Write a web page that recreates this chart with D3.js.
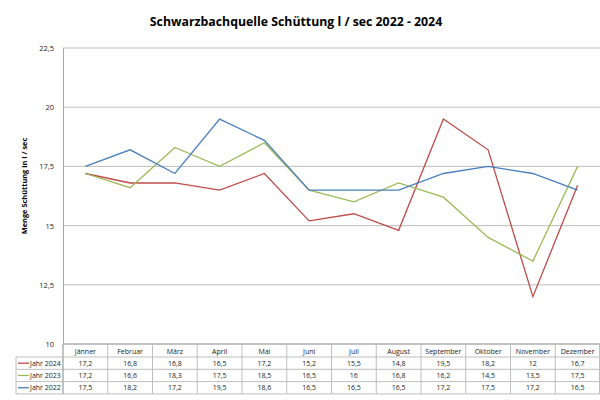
<!DOCTYPE html>
<html><head><meta charset="utf-8">
<script src="https://cdn.jsdelivr.net/npm/d3@7"></script>
<style>
html,body{margin:0;padding:0;background:#fff;}
svg{display:block;font-family:"Open Sans","Liberation Sans",sans-serif;}
</style></head>
<body>
<svg id="c" width="600" height="400"></svg>
<script>
const months = ["Jänner","Februar","März","April","Mai","Juni","Juli","August","September","Oktober","November","Dezember"];
const seriesNames = ["Jahr 2024","Jahr 2023","Jahr 2022"];
const seriesColors = ["#BE4B48","#9BBB59","#4A7EBB"];
const values2024 = [17.2,16.8,16.8,16.5,17.2,15.2,15.5,14.8,19.5,18.2,12,16.7];
const values2023 = [17.2,16.6,18.3,17.5,18.5,16.5,16,16.8,16.2,14.5,13.5,17.5];
const values2022 = [17.5,18.2,17.2,19.5,18.6,16.5,16.5,16.5,17.2,17.5,17.2,16.5];
const yTicks = [10,12.5,15,17.5,20,22.5];
const title = "Schwarzbachquelle Schüttung l / sec 2022 - 2024";
const yTitle = "Menge Schüttung in l / sec";

const series = [values2024, values2023, values2022];
const svg = d3.select("#c");
const L = 63, R = 600, T = 48, B = 344;
const rowH = 12.3, legL = 16;
const fmt = v => String(v).replace(".", ",");

const x = d3.scaleBand().domain(months).range([L, R]);
const y = d3.scaleLinear().domain([10, 22.5]).range([B, T]);

svg.append("text").attr("x", 296).attr("y", 26).attr("text-anchor", "middle")
  .attr("font-size", 12.3).attr("font-weight", "bold").attr("fill", "#000").text(title);

svg.append("g").selectAll("line").data(yTicks).join("line")
  .attr("x1", L).attr("x2", R).attr("y1", d => y(d)).attr("y2", d => y(d))
  .attr("stroke", "#BEBEBE").attr("stroke-width", 1);

const ya = svg.append("g").attr("transform", `translate(${L},0)`)
  .call(d3.axisLeft(y).tickValues(yTicks).tickSize(0).tickPadding(9).tickFormat(fmt));
ya.select(".domain").attr("stroke", "#A6A6A6");
ya.selectAll("text").attr("font-size", 7.5).attr("fill", "#222").attr("font-family", "Open Sans, sans-serif");

svg.append("text").attr("transform", `translate(27,${(T + B) / 2 - 10}) rotate(-90)`)
  .attr("text-anchor", "middle").attr("font-size", 7.4).attr("font-weight", "bold").text(yTitle);

const line = d3.line().x((d, i) => x(months[i]) + x.bandwidth() / 2).y(d => y(d));
series.forEach((s, k) => {
  svg.append("path").datum(s).attr("d", line).attr("fill", "none")
    .attr("stroke", seriesColors[k]).attr("stroke-width", 1.3);
});

const tb = svg.append("g");
const rowYs = [B, B + 13, B + 13 + rowH, B + 13 + 2 * rowH, B + 13 + 3 * rowH];
rowYs.forEach((yy, r) => {
  tb.append("line").attr("x1", r === 0 ? L : legL).attr("x2", R).attr("y1", yy).attr("y2", yy)
    .attr("stroke", r === 0 ? "#A6A6A6" : "#BEBEBE");
});
months.forEach(m => {
  tb.append("line").attr("x1", x(m)).attr("x2", x(m)).attr("y1", B).attr("y2", rowYs[4]).attr("stroke", "#BEBEBE");
});
tb.append("line").attr("x1", L).attr("x2", L).attr("y1", B).attr("y2", rowYs[4]).attr("stroke", "#A6A6A6");
tb.append("line").attr("x1", legL).attr("x2", legL).attr("y1", rowYs[1]).attr("y2", rowYs[4]).attr("stroke", "#BEBEBE");
tb.append("line").attr("x1", R - 0.5).attr("x2", R - 0.5).attr("y1", B).attr("y2", rowYs[4]).attr("stroke", "#BEBEBE");

tb.selectAll("text.h").data(months).join("text").attr("class", "h")
  .attr("x", d => x(d) + x.bandwidth() / 2).attr("y", B + 9.5).attr("text-anchor", "middle")
  .attr("font-size", 7).attr("fill", "#222").text(d => d);

series.forEach((s, k) => {
  const cy = rowYs[k + 1] + rowH / 2 + 2.6;
  tb.append("line").attr("x1", legL + 2).attr("x2", legL + 13).attr("y1", cy - 2.6).attr("y2", cy - 2.6)
    .attr("stroke", seriesColors[k]).attr("stroke-width", 1.3);
  tb.append("text").attr("x", legL + 14).attr("y", cy).attr("font-size", 7).attr("fill", "#222").text(seriesNames[k]);
  tb.selectAll(null).data(s).join("text")
    .attr("x", (d, i) => x(months[i]) + x.bandwidth() / 2).attr("y", cy).attr("text-anchor", "middle")
    .attr("font-size", 7).attr("fill", "#222").text(d => fmt(d));
});
</script>
</body></html>
